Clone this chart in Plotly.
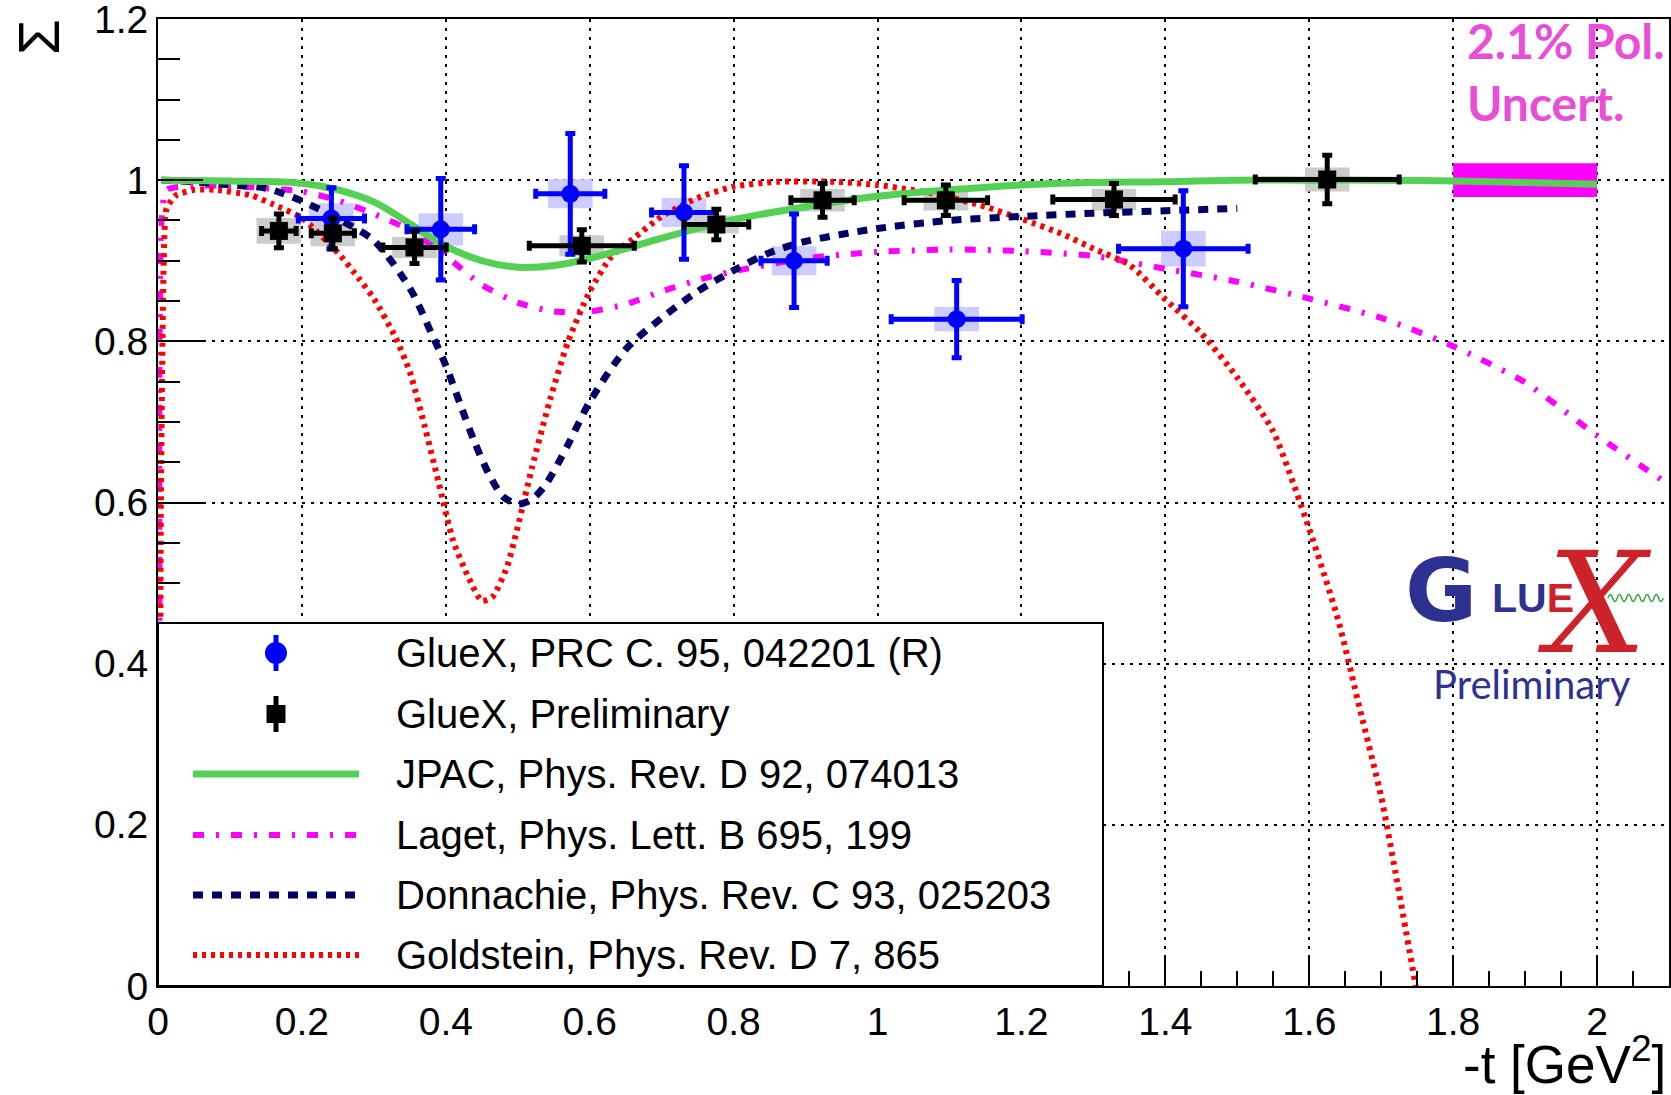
import plotly.graph_objects as go

# ---------------- data ----------------
# GlueX, PRC C. 95, 042201 (R)
blue_t = [0.241, 0.393, 0.573, 0.731, 0.884, 1.110, 1.425]
blue_sigma = [0.9525, 0.939, 0.983, 0.960, 0.900, 0.8275, 0.915]
blue_stat = [0.038, 0.063, 0.075, 0.058, 0.058, 0.048, 0.072]
blue_terr = [0.046, 0.047, 0.048, 0.045, 0.046, 0.091, 0.090]
blue_sys = [0.019, 0.020, 0.018, 0.018, 0.018, 0.015, 0.022]

# GlueX, Preliminary
black_t = [0.168, 0.243, 0.3565, 0.589, 0.776, 0.9236, 1.095, 1.3286, 1.625]
black_sigma = [0.937, 0.934, 0.9165, 0.9185, 0.945, 0.975, 0.975, 0.976, 1.0008]
black_stat = [0.021, 0.019, 0.020, 0.020, 0.019, 0.021, 0.019, 0.020, 0.030]
black_terr = [0.024, 0.030, 0.044, 0.073, 0.045, 0.044, 0.058, 0.085, 0.100]
black_sys = [0.016, 0.016, 0.013, 0.013, 0.011, 0.014, 0.0125, 0.0135, 0.015]

# JPAC model
jpac_t = [0.005, 0.1, 0.2, 0.25, 0.3, 0.35, 0.4, 0.45, 0.5, 0.55, 0.6, 0.65, 0.7,
          0.8, 0.9, 1.0, 1.1, 1.2, 1.3, 1.4, 1.5, 1.6, 1.7, 1.8, 1.9, 2.0]
jpac_sigma = [1.0, 0.999, 0.996, 0.988, 0.973, 0.946, 0.918, 0.900, 0.892, 0.894, 0.903,
              0.915, 0.928, 0.951, 0.967, 0.980, 0.988, 0.994, 0.997, 0.998, 1.0, 1.0,
              1.0, 0.999, 0.997, 0.995]

# Laget model
laget_t = [0.004, 0.005, 0.012, 0.05, 0.1, 0.15, 0.2, 0.25, 0.3, 0.35, 0.4, 0.45, 0.5,
           0.55, 0.6, 0.65, 0.7, 0.75, 0.8, 0.9, 1.0, 1.1, 1.2, 1.3, 1.4, 1.5, 1.6,
           1.7, 1.8, 1.9, 2.0, 2.1]
laget_sigma = [0.0, 0.95, 0.988, 0.993, 0.993, 0.990, 0.986, 0.975, 0.958, 0.938, 0.906,
               0.870, 0.848, 0.837, 0.837, 0.846, 0.862, 0.876, 0.887, 0.903, 0.911,
               0.914, 0.912, 0.906, 0.890, 0.874, 0.853, 0.829, 0.794, 0.749, 0.683, 0.622]

# Donnachie model
donn_t = [0.005, 0.05, 0.1, 0.15, 0.2, 0.25, 0.3, 0.35, 0.38, 0.4, 0.42, 0.44, 0.46,
          0.48, 0.5, 0.52, 0.54, 0.57, 0.6, 0.65, 0.7, 0.75, 0.8, 0.85, 0.9, 1.0,
          1.1, 1.2, 1.3, 1.4, 1.5]
donn_sigma = [1.0, 0.998, 0.994, 0.990, 0.974, 0.952, 0.925, 0.866, 0.810, 0.770, 0.722,
              0.675, 0.635, 0.607, 0.598, 0.604, 0.624, 0.672, 0.725, 0.790, 0.829,
              0.862, 0.888, 0.910, 0.924, 0.940, 0.950, 0.955, 0.959, 0.962, 0.965]

# Goldstein model
gold_t = [0.002, 0.004, 0.008, 0.012, 0.025, 0.05, 0.08, 0.13, 0.16, 0.2, 0.25, 0.28,
          0.3, 0.33, 0.35, 0.37, 0.39, 0.41, 0.43, 0.45, 0.465, 0.485, 0.5, 0.52,
          0.545, 0.57, 0.6, 0.63, 0.66, 0.7, 0.75, 0.8, 0.86, 0.94, 1.0, 1.08, 1.15,
          1.2, 1.26, 1.3, 1.35, 1.4, 1.45, 1.5, 1.55, 1.6, 1.64, 1.67, 1.7, 1.72, 1.748]
gold_sigma = [0.0, 0.6, 0.9, 0.965, 0.981, 0.988, 0.988, 0.981, 0.970, 0.953, 0.910,
              0.877, 0.853, 0.805, 0.762, 0.697, 0.625, 0.553, 0.510, 0.478, 0.483,
              0.520, 0.570, 0.644, 0.728, 0.800, 0.862, 0.905, 0.927, 0.955, 0.978,
              0.992, 0.998, 0.998, 0.994, 0.983, 0.967, 0.952, 0.932, 0.915, 0.895,
              0.852, 0.810, 0.755, 0.688, 0.567, 0.455, 0.345, 0.235, 0.140, 0.0]

# polarisation uncertainty band
pol_t = [1.8, 2.0]
pol_unc = 0.021

x_ticks = [0, 0.2, 0.4, 0.6, 0.8, 1.0, 1.2, 1.4, 1.6, 1.8, 2.0]
x_ticklabels = ["0", "0.2", "0.4", "0.6", "0.8", "1", "1.2", "1.4", "1.6", "1.8", "2"]
y_ticks = [0, 0.2, 0.4, 0.6, 0.8, 1.0, 1.2]
y_ticklabels = ["0", "0.2", "0.4", "0.6", "0.8", "1", "1.2"]

legend_labels = [
    "GlueX, PRC C. 95, 042201 (R)",
    "GlueX, Preliminary",
    "JPAC, Phys. Rev. D 92, 074013",
    "Laget, Phys. Lett. B 695, 199",
    "Donnachie, Phys. Rev. C 93, 025203",
    "Goldstein, Phys. Rev. D 7, 865",
]

# ---------------- styles ----------------
BLUE = "#0000ff"
BLUE_BOX = "#ccccff"
GRAY_BOX = "#cccccc"
GREEN = "#55d055"
MAGENTA = "#ff00ff"
NAVY = "#000066"
RED = "#ff0000"
FONT = "Liberation Sans"
SYS_HALF_WIDTH = 0.031

W, H = 1671, 1095
ML, MR, MT, MB = 158, 2, 19, 109
PW, PH = W - ML - MR, H - MT - MB


def gx(p):
    return (p - ML) / PW


def gy(p):
    return (H - MB - p) / PH


curve_styles = {
    "jpac": dict(color=GREEN, width=7, dash="solid"),
    "laget": dict(color=MAGENTA, width=6, dash="11px,12px,3px,12px"),
    "donn": dict(color=NAVY, width=7, dash="10px,9px"),
    "gold": dict(color=RED, width=6, dash="4px,5px"),
}

fig = go.Figure()

shapes = []
# systematic boxes
for t, s, e in zip(blue_t, blue_sigma, blue_sys):
    shapes.append(dict(type="rect", xref="x", yref="y", x0=t - SYS_HALF_WIDTH,
                       x1=t + SYS_HALF_WIDTH, y0=s - e, y1=s + e,
                       fillcolor=BLUE_BOX, line=dict(width=0), layer="between"))
for t, s, e in zip(black_t, black_sigma, black_sys):
    shapes.append(dict(type="rect", xref="x", yref="y", x0=t - SYS_HALF_WIDTH,
                       x1=t + SYS_HALF_WIDTH, y0=s - e, y1=s + e,
                       fillcolor=GRAY_BOX, line=dict(width=0), layer="between"))
# polarisation band
shapes.append(dict(type="rect", xref="x", yref="y", x0=pol_t[0], x1=pol_t[1],
                   y0=1 - pol_unc, y1=1 + pol_unc, fillcolor=MAGENTA,
                   line=dict(width=0), layer="between"))

# model curves
fig.add_trace(go.Scatter(x=laget_t, y=laget_sigma, mode="lines", name=legend_labels[3],
                         line=dict(shape="spline", smoothing=0.6, **curve_styles["laget"])))
fig.add_trace(go.Scatter(x=gold_t, y=gold_sigma, mode="lines", name=legend_labels[5],
                         line=dict(shape="spline", smoothing=0.6, **curve_styles["gold"])))
fig.add_trace(go.Scatter(x=donn_t, y=donn_sigma, mode="lines", name=legend_labels[4],
                         line=dict(shape="spline", smoothing=0.8, **curve_styles["donn"])))
fig.add_trace(go.Scatter(x=jpac_t, y=jpac_sigma, mode="lines", name=legend_labels[2],
                         line=dict(shape="spline", smoothing=1.0, **curve_styles["jpac"])))

# data points
fig.add_trace(go.Scatter(
    x=blue_t, y=blue_sigma, mode="markers", name=legend_labels[0],
    marker=dict(symbol="circle", size=18, color=BLUE),
    error_y=dict(type="data", array=blue_stat, color=BLUE, thickness=5, width=5),
    error_x=dict(type="data", array=blue_terr, color=BLUE, thickness=5, width=5),
))
fig.add_trace(go.Scatter(
    x=black_t, y=black_sigma, mode="markers", name=legend_labels[1],
    marker=dict(symbol="square", size=18, color="black"),
    error_y=dict(type="data", array=black_stat, color="black", thickness=5, width=5),
    error_x=dict(type="data", array=black_terr, color="black", thickness=5, width=5),
))

# ---------------- legend box ----------------
leg_rows = [653, 714, 774, 835, 895, 955]
shapes.append(dict(type="rect", xref="paper", yref="paper", x0=gx(158), x1=gx(1103),
                   y0=gy(986), y1=gy(623), fillcolor="white",
                   line=dict(color="black", width=2), layer="above"))
# marker glyphs
shapes.append(dict(type="line", xref="paper", yref="paper", x0=gx(276), x1=gx(276),
                   ysizemode="pixel", yanchor=gy(leg_rows[0]), y0=-18, y1=18,
                   line=dict(color=BLUE, width=5), layer="above"))
shapes.append(dict(type="circle", xref="paper", yref="paper", xsizemode="pixel",
                   xanchor=gx(276), x0=-11, x1=11, ysizemode="pixel",
                   yanchor=gy(leg_rows[0]), y0=-11, y1=11, fillcolor=BLUE,
                   line=dict(width=0), layer="above"))
shapes.append(dict(type="line", xref="paper", yref="paper", x0=gx(276), x1=gx(276),
                   ysizemode="pixel", yanchor=gy(leg_rows[1]), y0=-18, y1=18,
                   line=dict(color="black", width=5), layer="above"))
shapes.append(dict(type="rect", xref="paper", yref="paper", xsizemode="pixel",
                   xanchor=gx(276), x0=-9.5, x1=9.5, ysizemode="pixel",
                   yanchor=gy(leg_rows[1]), y0=-9, y1=9, fillcolor="black",
                   line=dict(width=0), layer="above"))
for key, row in zip(["jpac", "laget", "donn", "gold"], leg_rows[2:]):
    shapes.append(dict(type="line", xref="paper", yref="paper", x0=gx(193), x1=gx(359),
                       y0=gy(row), y1=gy(row), line=curve_styles[key], layer="above"))

annotations = []
for label, row in zip(legend_labels, leg_rows):
    annotations.append(dict(text=label, xref="paper", yref="paper", x=gx(394),
                            y=gy(row), xanchor="left", yanchor="middle",
                            showarrow=False, font=dict(family=FONT, size=40, color="black")))

# axis titles
annotations.append(dict(text="Σ", xref="paper", yref="paper", x=gx(38), y=gy(37),
                        xanchor="center", yanchor="middle", textangle=-90, showarrow=False,
                        font=dict(family=FONT, size=58, color="black")))
annotations.append(dict(text="-t [GeV<sup>2</sup>]", xref="paper", yref="paper",
                        x=gx(1668), y=gy(1060), xanchor="right", yanchor="middle",
                        showarrow=False, font=dict(family=FONT, size=53, color="black")))

# polarisation note
PINK = "#e94fd6"
annotations.append(dict(text="<b>2.1% Pol.</b>", xref="paper", yref="paper", x=gx(1465),
                        y=gy(40), xanchor="left", yanchor="middle", showarrow=False,
                        font=dict(family="Lato", size=48, color=PINK)))
annotations.append(dict(text="<b>Uncert.</b>", xref="paper", yref="paper", x=gx(1465),
                        y=gy(102), xanchor="left", yanchor="middle", showarrow=False,
                        font=dict(family="Lato", size=48, color=PINK)))

# GlueX logo
LOGO_BLUE = "#2e3192"
LOGO_RED = "#cc2229"
annotations.append(dict(text="<b>G</b>", xref="paper", yref="paper", x=gx(1441), y=gy(590),
                        xanchor="center", yanchor="middle", showarrow=False,
                        font=dict(family="DejaVu Sans", size=88, color=LOGO_BLUE)))
annotations.append(dict(
    text=f"<b>LU<span style='color:{LOGO_RED}'>E</span></b>", xref="paper", yref="paper",
    x=gx(1533), y=gy(598), xanchor="center", yanchor="middle", showarrow=False,
    font=dict(family=FONT, size=41, color=LOGO_BLUE)))
annotations.append(dict(text="<i>X</i>", xref="paper", yref="paper", x=gx(1594), y=gy(604),
                        xanchor="center", yanchor="middle", showarrow=False,
                        font=dict(family="DejaVu Serif", size=140, color=LOGO_RED)))
annotations.append(dict(text="Preliminary", xref="paper", yref="paper", x=gx(1532),
                        y=gy(684), xanchor="center", yanchor="middle", showarrow=False,
                        font=dict(family="Lato", size=40, color=LOGO_BLUE)))

# small photon wave next to the X
wx, wy, step = 1608, 598, 4.6
path = f"M {gx(wx):.5f},{gy(wy):.5f}"
for k in range(12):
    cx = wx + step * k + step / 2
    ex = wx + step * (k + 1)
    cy = wy - 7 if k % 2 == 0 else wy + 7
    path += f" Q {gx(cx):.5f},{gy(cy):.5f} {gx(ex):.5f},{gy(wy):.5f}"
shapes.append(dict(type="path", xref="paper", yref="paper", path=path,
                   line=dict(color="#3aa84a", width=1.5), layer="above"))

axis_common = dict(
    ticks="inside", tickwidth=2, tickcolor="black",
    showline=True, linewidth=2, linecolor="black", mirror=True,
    showgrid=True, gridcolor="black", gridwidth=2, griddash="3px,6px",
    zeroline=False, tickmode="array", ticklabeloverflow="allow", automargin=False,
    tickfont=dict(family=FONT, size=39, color="black"),
)

fig.update_xaxes(range=[0, 2.1], tickvals=x_ticks, ticktext=x_ticklabels, ticklen=29,
                 minor=dict(dtick=0.05, tick0=0, ticks="inside", ticklen=15, tickwidth=2,
                            tickcolor="black", showgrid=False),
                 **axis_common)
fig.update_yaxes(range=[0, 1.2], tickvals=y_ticks, ticktext=y_ticklabels, ticklen=45,
                 minor=dict(dtick=0.05, tick0=0, ticks="inside", ticklen=22, tickwidth=2,
                            tickcolor="black", showgrid=False),
                 **axis_common)

fig.update_layout(
    width=W, height=H,
    margin=dict(l=ML, r=MR, t=MT, b=MB, autoexpand=False),
    plot_bgcolor="white", paper_bgcolor="white",
    showlegend=False,
    shapes=shapes, annotations=annotations,
)

fig.write_html("out.html")
